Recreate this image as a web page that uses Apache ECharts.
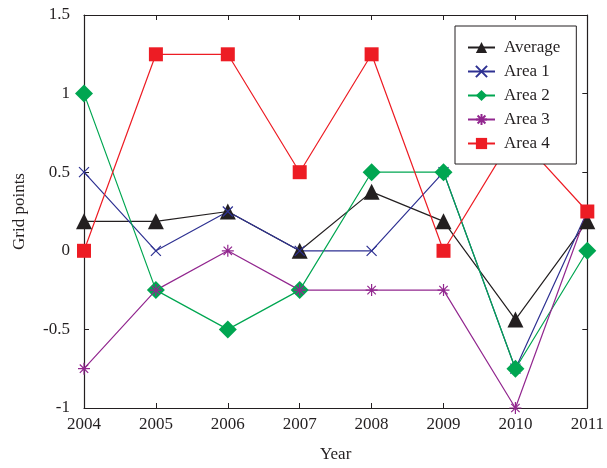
<!DOCTYPE html>
<html>
<head>
<meta charset="utf-8">
<script src="https://cdn.jsdelivr.net/npm/echarts@6/dist/echarts.min.js"></script>
<style>
  html, body { margin: 0; padding: 0; background: #fff; }
  #chart { width: 607px; height: 468px; }
</style>
</head>
<body>
<div id="chart"></div>
<script>
// Years on the horizontal axis
const years = ['2004', '2005', '2006', '2007', '2008', '2009', '2010', '2011'];

// Grid points per area and their average
const average = [0.1875, 0.1875, 0.25, 0, 0.375, 0.1875, -0.4375, 0.1875];
const area1 = [0.5, 0, 0.25, 0, 0, 0.5, -0.75, 0.25];
const area2 = [1, -0.25, -0.5, -0.25, 0.5, 0.5, -0.75, 0];
const area3 = [-0.75, -0.25, 0, -0.25, -0.25, -0.25, -1, 0.25];
const area4 = [0, 1.25, 1.25, 0.5, 1.25, 0, 0.75, 0.25];

const seriesNames = ['Average', 'Area 1', 'Area 2', 'Area 3', 'Area 4'];

const FONT = '"Liberation Serif", "DejaVu Serif", serif';

// Stroke-only marker shapes
const crossPath = 'path://M0,0L10,10M10,0L0,10';
const starPath = 'path://M5,0L5,10M0,5L10,5M1.5,1.5L8.5,8.5M8.5,1.5L1.5,8.5';

function makeSeries(name, data, color, symbol, size, strokeOnly) {
  return {
    name: name,
    type: 'line',
    data: data,
    symbol: symbol,
    symbolSize: size,
    showAllSymbol: true,
    lineStyle: { color: color, width: 1.2 },
    itemStyle: strokeOnly
      ? { color: 'rgba(0,0,0,0)', borderColor: color, borderWidth: 1.2 }
      : { color: color, borderWidth: 0 },
    emphasis: { disabled: true },
    animation: false
  };
}

const chart = echarts.init(document.getElementById('chart'), null, { renderer: 'canvas' });

const tickStyle = { show: true, inside: true, length: 5, lineStyle: { color: '#231f20', width: 1 } };
const lineAxis = { show: true, onZero: false, lineStyle: { color: '#231f20', width: 1.2 } };

chart.setOption({
  backgroundColor: '#fff',
  animation: false,
  grid: { left: 84, right: 17, top: 15, bottom: 57 },
  legend: {
    orient: 'vertical',
    left: 455,
    top: 26,
    padding: [13, 16, 12, 12],
    itemWidth: 27,
    itemHeight: 14,
    itemGap: 7,
    backgroundColor: '#fff',
    borderColor: '#231f20',
    borderWidth: 1,
    borderRadius: 0,
    data: seriesNames,
    textStyle: { fontFamily: FONT, fontSize: 17, color: '#231f20', padding: [0, 0, 0, 4] }
  },
  xAxis: [
    {
      type: 'category',
      data: years,
      boundaryGap: false,
      position: 'bottom',
      axisLine: lineAxis,
      axisTick: tickStyle,
      axisLabel: { fontFamily: FONT, fontSize: 17, color: '#231f20', margin: 8 },
      splitLine: { show: false },
      name: 'Year',
      nameLocation: 'middle',
      nameGap: 38,
      nameTextStyle: { fontFamily: FONT, fontSize: 17, color: '#231f20' }
    },
    {
      type: 'category',
      data: years,
      boundaryGap: false,
      position: 'top',
      axisLine: lineAxis,
      axisTick: tickStyle,
      axisLabel: { show: false },
      splitLine: { show: false }
    }
  ],
  yAxis: [
    {
      type: 'value',
      min: -1,
      max: 1.5,
      interval: 0.5,
      position: 'left',
      axisLine: lineAxis,
      axisTick: tickStyle,
      axisLabel: { fontFamily: FONT, fontSize: 17, color: '#231f20', margin: 14 },
      splitLine: { show: false },
      name: 'Grid points',
      nameLocation: 'middle',
      nameGap: 56,
      nameTextStyle: { fontFamily: FONT, fontSize: 17, color: '#231f20' }
    },
    {
      type: 'value',
      min: -1,
      max: 1.5,
      interval: 0.5,
      position: 'right',
      axisLine: lineAxis,
      axisTick: tickStyle,
      axisLabel: { show: false },
      splitLine: { show: false }
    }
  ],
  series: [
    makeSeries('Average', average, '#231f20', 'triangle', 16, false),
    makeSeries('Area 1', area1, '#2e3192', crossPath, 10, true),
    makeSeries('Area 2', area2, '#00a651', 'diamond', 18, false),
    makeSeries('Area 3', area3, '#92278f', starPath, 12, true),
    makeSeries('Area 4', area4, '#ed1c24', 'rect', 14, false)
  ]
});
</script>
</body>
</html>
